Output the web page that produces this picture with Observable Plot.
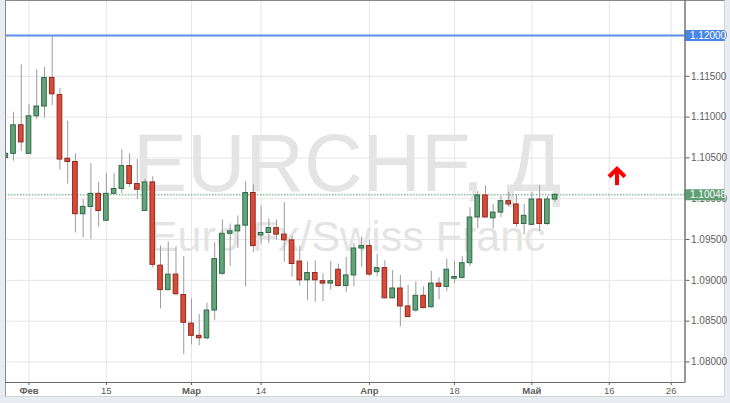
<!DOCTYPE html>
<html><head><meta charset="utf-8">
<script src="https://cdn.jsdelivr.net/npm/d3@7"></script>
<script src="https://cdn.jsdelivr.net/npm/@observablehq/plot@0.6"></script>
<style>
html,body{margin:0;padding:0;background:#e9edf1;}
#wrap{position:relative;width:730px;height:403px;overflow:hidden;}
#panel{position:absolute;left:5px;top:0;width:720px;height:397px;background:#fff;box-sizing:border-box;border:1px solid #d0d4d8;border-top-color:#8a8a8a;border-left-color:#9a9a9a;}
#chart{position:absolute;left:0;top:0;}
</style></head><body>
<div id="wrap"><div id="panel"></div><div id="chart"></div></div>
<script>
// Daily candles EURCHF, index = trading-day slot on the chart
const opens = [1.1050,1.1055,1.1090,1.1055,1.1101,1.1113,1.1148,1.1127,1.1049,1.1045,
1.0981,1.0990,1.1006,1.0973,1.1006,1.1012,1.1040,1.1018,1.0985,1.1020,
1.0918,1.0888,1.0907,1.0882,1.0847,1.0832,1.0829,1.0863,1.0908,1.0957,
1.0960,1.0967,1.1007,1.0955,1.0958,1.0964,1.0956,1.0949,1.0923,1.0900,
1.0909,1.0899,1.0896,1.0913,1.0893,1.0906,1.0939,1.0942,1.0910,1.0915,
1.0878,1.0890,1.0868,1.0863,1.0881,1.0867,1.0896,1.0892,1.0902,1.0903,
1.0921,1.0977,1.1004,1.0976,1.0983,1.0997,1.0993,1.0969,1.0968,1.0999,
1.0969,1.0999];
const highs = [1.1058,1.1106,1.1164,1.1115,1.1158,1.1161,1.1200,1.1135,1.1095,1.1055,
1.0999,1.1043,1.1020,1.1031,1.1031,1.1060,1.1055,1.1048,1.1024,1.1027,
1.0942,1.0947,1.0941,1.0929,1.0877,1.0858,1.0872,1.0946,1.0974,1.0969,
1.0979,1.1021,1.1017,1.0991,1.0975,1.0974,1.0995,1.0954,1.0942,1.0923,
1.0924,1.0908,1.0923,1.0920,1.0928,1.0945,1.0953,1.0949,1.0932,1.0924,
1.0912,1.0906,1.0894,1.0898,1.0892,1.0911,1.0903,1.0926,1.0923,1.0929,
1.0989,1.1009,1.1016,1.0993,1.1003,1.1008,1.1005,1.0993,1.1008,1.1016,
1.1003,1.1006];
const lows = [1.1048,1.1046,1.1058,1.1055,1.1097,1.1099,1.1114,1.1035,1.1018,1.0958,
1.0952,1.0950,1.0965,1.0973,1.1005,1.1006,1.1014,1.0999,1.0985,1.0915,
1.0865,1.0887,1.0881,1.0809,1.0821,1.0820,1.0827,1.0851,1.0906,1.0917,
1.0939,1.0892,1.0934,1.0944,1.0945,1.0949,1.0922,1.0904,1.0893,1.0875,
1.0873,1.0874,1.0888,1.0892,1.0885,1.0892,1.0916,1.0905,1.0904,1.0877,
1.0877,1.0843,1.0854,1.0861,1.0865,1.0866,1.0876,1.0886,1.0896,1.0902,
1.0917,1.0963,1.0977,1.0963,1.0977,1.0990,1.0965,1.0956,1.0967,1.0960,
1.0967,1.0996];
const closes = [1.1055,1.1090,1.1069,1.1101,1.1113,1.1148,1.1128,1.1048,1.1045,1.0981,
1.0990,1.1006,1.0985,1.1006,1.1012,1.1040,1.1018,1.1011,1.1020,1.0919,
1.0888,1.0907,1.0883,1.0848,1.0832,1.0829,1.0863,1.0926,1.0957,1.0960,
1.0967,1.1007,1.0942,1.0958,1.0964,1.0956,1.0949,1.0920,1.0900,1.0909,
1.0900,1.0896,1.0899,1.0893,1.0906,1.0939,1.0942,1.0907,1.0915,1.0878,
1.0890,1.0868,1.0855,1.0881,1.0866,1.0896,1.0892,1.0913,1.0904,1.0921,
1.0977,1.1004,1.0977,1.0983,1.0997,1.0993,1.0969,1.0979,1.0999,1.0969,
1.0999,1.10048];

const xTickIdx = [4,14,25,34,48,59,69,79,87];
const xTickLabels = ["Фев","15","Мар","14","Апр","18","Май","16","26"];
const xTickBold = [true,false,true,false,true,false,true,false,false];
const yTicks = [1.08,1.085,1.09,1.095,1.10,1.105,1.11,1.115,1.12];
const levelLine = [1.12];
const lastPrice = [1.10048];
const watermark = ["EURCHF, Д"];
const watermarkSub = ["Euro Fx/Swiss Franc"];
const signalArrow = [{i: 80, from: 1.1016, to: 1.1033, tip: 1.1036}];

const candles = opens.map((o, k) => ({i: k + 1, open: o, high: highs[k], low: lows[k], close: closes[k]}));
const xDomain = [0.963, 88.79];
const labelW = 5.2; // right-axis label box width in slot units
const monthTicks = xTickIdx.filter((d, k) => xTickBold[k]);
const dayTicks = xTickIdx.filter((d, k) => !xTickBold[k]);
const labelOf = i => xTickLabels[xTickIdx.indexOf(i)];
const fmt = d3.format(".5f");
const axisFont = "'Liberation Sans Narrow','Arial Narrow','Liberation Sans',sans-serif";
const up = "#64a47b", upStroke = "#2f6a45", dn = "#dc4b39", dnStroke = "#8c2a1e";
// open chevron used as arrow head
const chevron = {draw(ctx, size) { const r = Math.sqrt(size) / 2; ctx.moveTo(-r, r * 0.55); ctx.lineTo(0, -r * 0.45); ctx.lineTo(r, r * 0.55); }};

const chart = Plot.plot({
  width: 730, height: 403,
  marginLeft: 5, marginRight: 45.5, marginTop: 0, marginBottom: 21,
  style: {background: "transparent", fontFamily: "'Liberation Sans',Arial,sans-serif"},
  x: {type: "linear", domain: xDomain, axis: null},
  y: {domain: [1.07748, 1.12429], axis: null},
  marks: [
    Plot.gridY(yTicks, {stroke: "#e6e6e6", strokeOpacity: 1}),
    Plot.gridX(xTickIdx, {stroke: "#e6e6e6", strokeOpacity: 1}),
    Plot.text(watermark, {frameAnchor: "top", dx: 2, dy: 190, lineAnchor: "bottom", text: d => d, fontSize: 81, fill: "#e4e4e4"}),
    Plot.text(watermarkSub, {frameAnchor: "top", dx: 2, dy: 250, lineAnchor: "bottom", text: d => d, fontSize: 43, fill: "#e4e4e4"}),
    Plot.ruleY(lastPrice, {stroke: "#4fa66b", strokeWidth: 1, strokeDasharray: "1.5,1.5"}),
    Plot.ruleY(levelLine, {stroke: "#5c8ee8", strokeWidth: 2}),
    Plot.ruleX(candles, {x: "i", y1: "low", y2: "high", stroke: "#9c9c9c", strokeWidth: 1, clip: true}),
    Plot.rect(candles, {x1: d => d.i - 0.3, x2: d => d.i + 0.3, y1: "open", y2: "close",
      fill: d => d.close >= d.open ? up : dn, stroke: d => d.close >= d.open ? upStroke : dnStroke, strokeWidth: 1, clip: true}),
    Plot.ruleX(signalArrow, {x: "i", y1: "from", y2: "to", stroke: "#ff0000", strokeWidth: 4}),
    Plot.dot(signalArrow, {x: "i", y: "tip", symbol: chevron, r: 9, fill: "none", stroke: "#ff0000", strokeWidth: 4, dy: 3}),
    Plot.frame({stroke: "#8a8a8a"}),
    Plot.axisY(yTicks, {anchor: "right", label: null, tickFormat: fmt, tickSize: 4, tickPadding: 2, fontSize: 10, color: "#606060", fontFamily: axisFont}),
    Plot.ruleY(levelLine, {x1: xDomain[1], x2: xDomain[1] + labelW, stroke: "#4a86e8", strokeWidth: 11}),
    Plot.text(levelLine, {x: xDomain[1], y: d => d, dx: 5, textAnchor: "start", text: fmt, fill: "white", fontSize: 10, fontFamily: axisFont}),
    Plot.ruleY(lastPrice, {x1: xDomain[1], x2: xDomain[1] + labelW, stroke: "#5f9e74", strokeWidth: 11}),
    Plot.text(lastPrice, {x: xDomain[1], y: d => d, dx: 5, textAnchor: "start", text: fmt, fill: "white", fontSize: 10, fontFamily: axisFont}),
    Plot.ruleX([xDomain[1]], {stroke: "#6a6a6a"}),
    Plot.ruleY([1.07748], {stroke: "#6a6a6a"}),
    Plot.axisX(monthTicks, {anchor: "bottom", label: null, tickFormat: labelOf, tickSize: 3, tickPadding: 2, fontSize: 9.5, fontWeight: "bold", color: "#606060", fontFamily: axisFont}),
    Plot.axisX(dayTicks, {anchor: "bottom", label: null, tickFormat: labelOf, tickSize: 3, tickPadding: 2, fontSize: 9.5, color: "#606060", fontFamily: axisFont})
  ]
});
document.getElementById("chart").appendChild(chart);
</script>
</body></html>
